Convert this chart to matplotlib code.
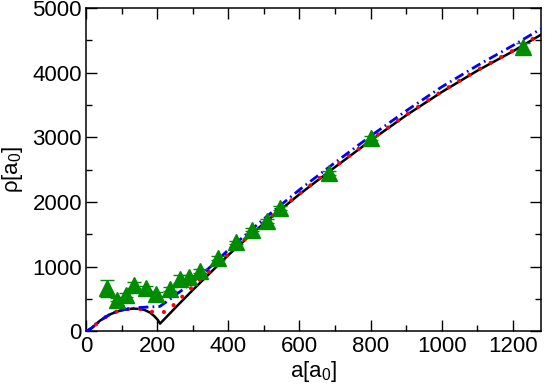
import matplotlib
matplotlib.use("Agg")
import matplotlib.pyplot as plt
from matplotlib.ticker import MultipleLocator

plt.rcParams['font.family'] = ['Liberation Sans', 'DejaVu Sans']
plt.rcParams['mathtext.default'] = 'regular'

# Experimental points (green triangles with error bars)
exp_a = [58, 87, 111, 136, 169, 197, 236, 263, 289, 321, 370, 421, 466, 508, 545, 684, 800, 1228]
exp_rho = [667, 488, 564, 718, 667, 580, 652, 810, 836, 938, 1129, 1375, 1575, 1708, 1914, 2452, 2985, 4400]
exp_err = [135, 25, 30, 50, 40, 30, 30, 65, 40, 30, 30, 30, 30, 30, 30, 30, 30, 60]

# Black solid curve
black_a = [0, 15, 40, 70, 100, 130, 150, 165, 180, 192, 202, 208, 250, 300, 350, 400, 450, 500,
           600, 700, 800, 900, 1000, 1100, 1200, 1280]
black_rho = [0, 50, 170, 270, 330, 352, 348, 330, 290, 235, 175, 120, 360, 640, 910, 1180, 1430, 1670,
             2120, 2540, 2950, 3340, 3700, 4030, 4330, 4590]

# Red dotted curve
red_a = [0, 15, 43, 72, 110, 153, 175, 191, 210, 226, 254, 282, 310, 350, 400, 450, 500,
         600, 700, 800, 900, 1000, 1100, 1200, 1280]
red_rho = [0, 50, 180, 283, 345, 345, 325, 292, 290, 308, 446, 600, 745, 950, 1200, 1440, 1680,
           2130, 2550, 2960, 3350, 3710, 4040, 4340, 4600]

# Blue dash-dot curve
blue_a = [0, 15, 43, 72, 110, 151, 180, 207, 234, 258, 296, 350, 400, 500, 600, 700, 800,
          900, 1000, 1100, 1200, 1280]
blue_rho = [0, 50, 180, 283, 340, 370, 378, 385, 488, 590, 745, 1000, 1260, 1740, 2190, 2610, 3020,
            3410, 3780, 4110, 4420, 4680]

fig = plt.figure(figsize=(5.45, 3.84), dpi=100)
ax = fig.add_axes([0.158, 0.137, 0.835, 0.842])

ax.plot(black_a, black_rho, color='black', lw=1.8, zorder=3)
ax.plot(red_a, red_rho, color='#ff0000', lw=3, linestyle=(0, (0.01, 2.9)),
        dash_capstyle='round', zorder=4)
ax.plot(blue_a, blue_rho, color='#0000ff', lw=2, linestyle=(0, (3.5, 1.5, 0.6, 1.5)), zorder=5)
ax.errorbar(exp_a, exp_rho, yerr=exp_err, fmt='^', color='#008c00', ms=11,
            elinewidth=1, capsize=5, capthick=1, zorder=6)

ax.set_xlim(0, 1280)
ax.set_ylim(0, 5000)
ax.xaxis.set_major_locator(MultipleLocator(200))
ax.xaxis.set_minor_locator(MultipleLocator(100))
ax.yaxis.set_major_locator(MultipleLocator(1000))
ax.yaxis.set_minor_locator(MultipleLocator(500))
ax.tick_params(which='both', direction='in', top=True, right=True, labelsize=16, width=1)
ax.tick_params(which='major', length=8, pad=3)
ax.tick_params(which='minor', length=4)
for s in ax.spines.values():
    s.set_linewidth(1.1)

ax.set_xlabel(r'a[a$_0$]', fontsize=16, labelpad=2)
ax.set_ylabel(r'ρ[a$_0$]', fontsize=16, labelpad=5)

fig.savefig('out.png', dpi=100)
